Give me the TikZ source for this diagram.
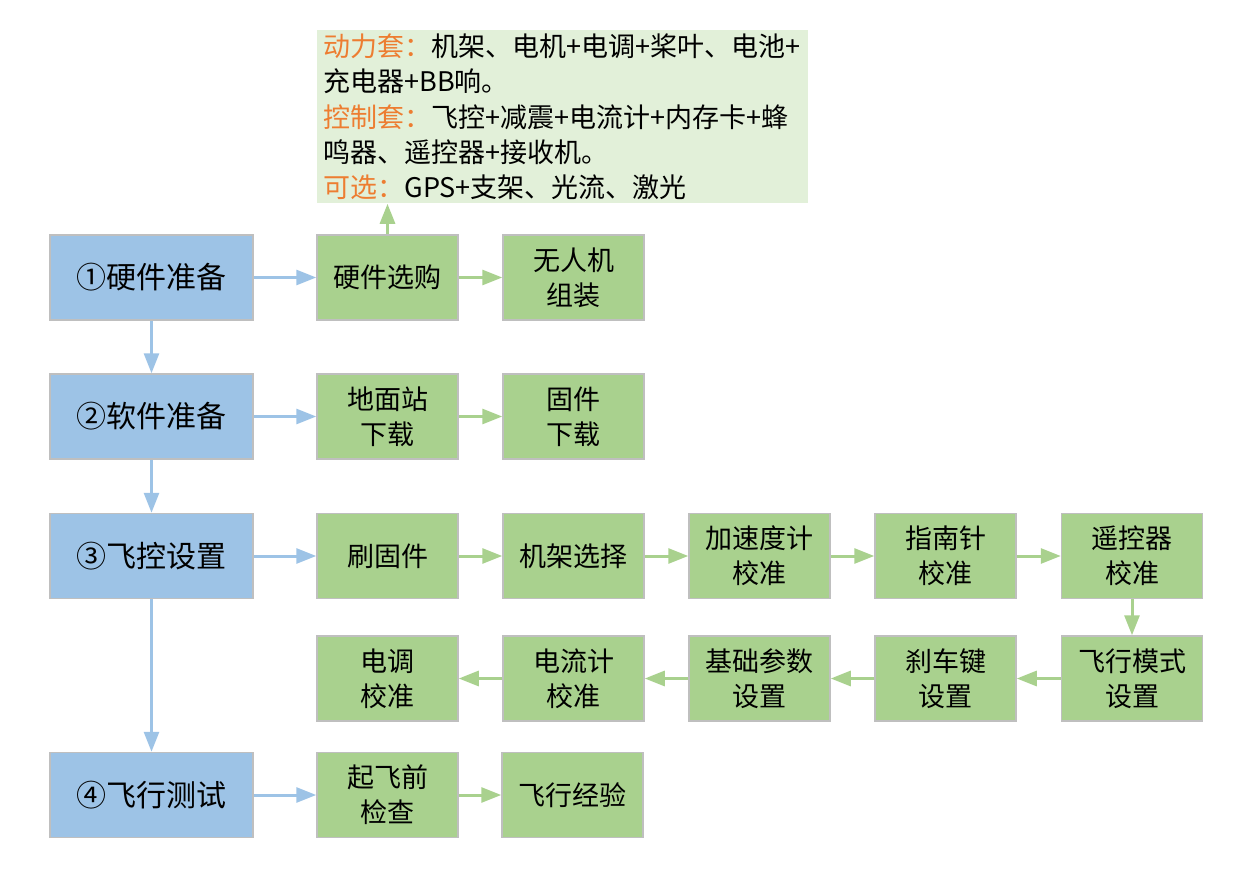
\documentclass[tikz,border=0pt]{standalone}
\usepackage{fontspec}
\setmainfont{Noto Sans CJK SC}
\usepackage{tikz}
\usetikzlibrary{arrows.meta, positioning, calc}
\usepackage{xcolor}
\definecolor{stageblue}{HTML}{9DC3E6}
\definecolor{stepgreen}{HTML}{A9D18E}
\definecolor{notegreen}{HTML}{E2F0D9}
\definecolor{noteorange}{HTML}{ED7D31}
\definecolor{edgegray}{HTML}{BFBFBF}

\tikzset{
  stage/.style={draw=edgegray, line width=0.75pt, fill=stageblue, minimum width=101.5pt,
    minimum height=42.5pt, inner sep=0pt, font=\fontsize{15}{18}\selectfont},
  stepbox/.style={draw=edgegray, line width=0.75pt, fill=stepgreen, minimum width=70.5pt,
    minimum height=42.5pt, inner sep=0pt, align=center,
    font=\fontsize{13.5}{17.5}\selectfont},
  bluearrow/.style={stageblue, line width=1.5pt, -{Triangle[length=10pt, width=7.5pt]}},
  greenarrow/.style={stepgreen, line width=1.5pt, -{Triangle[length=10pt, width=7.5pt]}},
}

\begin{document}
\begin{tikzpicture}[x=0.5pt, y=-0.5pt]
    \useasboundingbox (0,0) rectangle (1249,872);
    % stages
    \node[stage] (hw) at (151.5,277.5) {①硬件准备};
    \node[stage] (sw) at (151.5,416.5) {②软件准备};
    \node[stage] (fc) at (151.5,556) {③飞控设置};
    \node[stage] (ft) at (151.5,795) {④飞行测试};
    % hardware
    \node[stepbox] (buy) at (387.5,277.5) {硬件选购};
    \node[stepbox] (build) at (573.5,277.5) {无人机\\组装};
    \node[draw=none, fill=notegreen, anchor=north west, minimum width=245.5pt,
      minimum height=86.5pt, inner xsep=3pt, inner ysep=0.5pt, text width=239.5pt,
      align=left, font=\fontsize{13.5}{17.6}\selectfont] (parts) at (317,30)
      {\textcolor{noteorange}{动力套：}机架、电机+电调+桨叶、电池+\\
       充电器+BB响。\\
       \textcolor{noteorange}{控制套：}飞控+减震+电流计+内存卡+蜂\\
       鸣器、遥控器+接收机。\\
       \textcolor{noteorange}{可选：}GPS+支架、光流、激光};
    % software
    \node[stepbox] (gcs) at (387.5,416.5) {地面站\\下载};
    \node[stepbox] (fw) at (573.5,416.5) {固件\\下载};
    % flight controller
    \node[stepbox] (flash) at (387.5,556) {刷固件};
    \node[stepbox] (frame) at (573.5,556) {机架选择};
    \node[stepbox] (accel) at (759.5,556) {加速度计\\校准};
    \node[stepbox] (compass) at (945.5,556) {指南针\\校准};
    \node[stepbox] (radio) at (1132,556) {遥控器\\校准};
    \node[stepbox] (mode) at (1132,678.5) {飞行模式\\设置};
    \node[stepbox] (brake) at (945.5,678.5) {刹车键\\设置};
    \node[stepbox] (param) at (759.5,678.5) {基础参数\\设置};
    \node[stepbox] (curr) at (573.5,678.5) {电流计\\校准};
    \node[stepbox] (esc) at (387.5,678.5) {电调\\校准};
    % flight test
    \node[stepbox] (check) at (387.5,795) {起飞前\\检查};
    \node[stepbox] (exp) at (572.5,795) {飞行经验};

    \draw[bluearrow] (hw) -- (sw);
    \draw[bluearrow] (sw) -- (fc);
    \draw[bluearrow] (fc) -- (ft);
    \draw[bluearrow] (hw) -- (buy);
    \draw[bluearrow] (sw) -- (gcs);
    \draw[bluearrow] (fc) -- (flash);
    \draw[bluearrow] (ft) -- (check);

    \draw[greenarrow] (buy) -- (build);
    \draw[greenarrow] (buy.north) -- (buy.north |- parts.south);
    \draw[greenarrow] (gcs) -- (fw);
    \draw[greenarrow] (flash) -- (frame);
    \draw[greenarrow] (frame) -- (accel);
    \draw[greenarrow] (accel) -- (compass);
    \draw[greenarrow] (compass) -- (radio);
    \draw[greenarrow] (radio) -- (mode);
    \draw[greenarrow] (mode) -- (brake);
    \draw[greenarrow] (brake) -- (param);
    \draw[greenarrow] (param) -- (curr);
    \draw[greenarrow] (curr) -- (esc);
    \draw[greenarrow] (check) -- (exp);
  \end{tikzpicture}
\end{document}
